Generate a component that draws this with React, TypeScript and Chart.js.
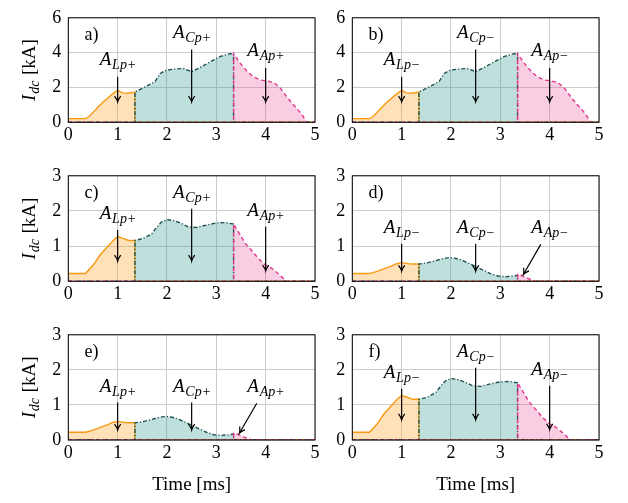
import React, { useEffect, useRef } from 'react';
import { Chart, registerables } from 'chart.js';

Chart.register(...registerables);

const SERIF = '"Liberation Serif", "Times New Roman", serif';

// ---- axes ----
const timeTicks = [0, 1, 2, 3, 4, 5];
const currentTicksHigh = [0, 2, 4, 6];
const currentTicksLow = [0, 1, 2, 3];

// ---- curve family "high" (panels a, b) ----
const highLt = [0, 0.35, 0.42, 0.5, 0.6, 0.7, 0.8, 0.9, 1.0, 1.1, 1.2, 1.35];
const highLi = [0.21, 0.21, 0.33, 0.57, 0.87, 1.15, 1.4, 1.63, 1.83, 1.69, 1.67, 1.74];
const highCt = [1.35, 1.59, 1.76, 1.86, 1.96, 2.13, 2.33, 2.5, 2.67, 2.87, 3.07, 3.28, 3.35];
const highCi = [1.74, 2.08, 2.34, 2.79, 2.97, 3.05, 3.09, 2.91, 3.14, 3.46, 3.77, 3.94, 3.94];
const highAt = [3.35, 3.48, 3.61, 3.75, 3.89, 4.02, 4.16, 4.29, 4.43, 4.56, 4.7, 4.8, 4.83];
const highAi = [3.94, 3.41, 2.97, 2.61, 2.43, 2.38, 2.29, 1.99, 1.46, 1.01, 0.57, 0.16, 0];

// ---- curve family "mid" (panels c, f) ----
const midLt = [0, 0.35, 0.51, 0.64, 0.78, 0.91, 1.0, 1.11, 1.22, 1.35];
const midLi = [0.22, 0.22, 0.47, 0.74, 0.96, 1.16, 1.27, 1.22, 1.16, 1.16];
const midCt = [1.35, 1.52, 1.69, 1.79, 1.89, 2.0, 2.13, 2.3, 2.43, 2.6, 2.8, 3.0, 3.18, 3.35];
const midCi = [1.16, 1.22, 1.35, 1.53, 1.69, 1.75, 1.73, 1.64, 1.55, 1.53, 1.6, 1.66, 1.67, 1.63];
const midAt = [3.35, 3.45, 3.58, 3.72, 3.85, 3.99, 4.12, 4.26, 4.36, 4.4];
const midAi = [1.63, 1.4, 1.09, 0.87, 0.65, 0.47, 0.37, 0.21, 0.08, 0];

// ---- curve family "low" (panels d, e) ----
const lowLt = [0, 0.35, 0.5, 0.65, 0.8, 0.9, 1.0, 1.1, 1.2, 1.35];
const lowLi = [0.22, 0.22, 0.28, 0.36, 0.44, 0.5, 0.53, 0.51, 0.49, 0.49];
const lowCt = [1.35, 1.5, 1.65, 1.8, 1.9, 2.0, 2.1, 2.2, 2.35, 2.5, 2.65, 2.8, 2.95, 3.1, 3.25, 3.35];
const lowCi = [0.49, 0.52, 0.57, 0.63, 0.66, 0.67, 0.65, 0.61, 0.52, 0.42, 0.32, 0.22, 0.15, 0.13, 0.15, 0.17];
const lowAt = [3.35, 3.45, 3.55, 3.65, 3.72];
const lowAi = [0.19, 0.16, 0.09, 0.03, 0];

// ---- annotations: [L, C, A] ----
const highLabelX = [1, 2.5, 4];
const highLabelY = [3.3, 4.83, 3.8];
const highArrowFromX = [1, 2.5, 4];
const highArrowFromY = [2.62, 4.18, 3.12];
const highArrowToX = [1, 2.5, 4];
const highArrowToY = [1.18, 1.18, 1.18];

const midLabelX = [1, 2.5, 4];
const midLabelY = [1.76, 2.38, 1.86];
const midArrowFromX = [1, 2.5, 4];
const midArrowFromY = [1.46, 2.06, 1.55];
const midArrowToX = [1, 2.5, 4];
const midArrowToY = [0.58, 0.58, 0.3];

const lowLabelX = [1, 2.5, 4];
const lowLabelY = [1.36, 1.36, 1.36];
const lowArrowFromX = [1, 2.5, 3.82];
const lowArrowFromY = [1.07, 1.07, 1.05];
const lowArrowToX = [1, 2.5, 3.47];
const lowArrowToY = [0.29, 0.29, 0.2];

const areaNames = ['L', 'C', 'A'];
const panelTags = ['a)', 'b)', 'c)', 'd)', 'e)', 'f)'];
const panelSigns = ['+', '\u2212', '+', '\u2212', '+', '\u2212'];
const panelFamilies = ['high', 'high', 'mid', 'low', 'low', 'mid'];
const tagX = 0.33;
const tagYHigh = 5.0;
const tagYLow = 2.5;

// ---- styles ----
const ORANGE = '#f79a12';
const ORANGE_FILL = 'rgba(252,165,40,0.33)';
const TEAL = '#1d5250';
const TEAL_FILL = 'rgba(40,150,140,0.3)';
const PINK = '#e2378c';
const PINK_FILL = 'rgba(230,55,140,0.25)';

const families: any = {
  high: {
    lt: highLt, li: highLi, ct: highCt, ci: highCi, at: highAt, ai: highAi,
    lx: highLabelX, ly: highLabelY, fx: highArrowFromX, fy: highArrowFromY, tx: highArrowToX, ty: highArrowToY,
    ticks: currentTicksHigh, max: 6, tagY: tagYHigh,
  },
  mid: {
    lt: midLt, li: midLi, ct: midCt, ci: midCi, at: midAt, ai: midAi,
    lx: midLabelX, ly: midLabelY, fx: midArrowFromX, fy: midArrowFromY, tx: midArrowToX, ty: midArrowToY,
    ticks: currentTicksLow, max: 3, tagY: tagYLow,
  },
  low: {
    lt: lowLt, li: lowLi, ct: lowCt, ci: lowCi, at: lowAt, ai: lowAi,
    lx: lowLabelX, ly: lowLabelY, fx: lowArrowFromX, fy: lowArrowFromY, tx: lowArrowToX, ty: lowArrowToY,
    ticks: currentTicksLow, max: 3, tagY: tagYLow,
  },
};

// ---- layout (page px) ----
const AREA_W = 246.7;
const Y_AXIS_W = 68.3;
const CANVAS_W = 330;
const colCanvasLeft = [0, 284];
const rowCanvasTop = [0, 158, 317];
const rowCanvasH = [155, 155, 186];
const rowAreaTop = [9, 167.3, 326.7];
const rowAreaBottom = [122.3, 281.3, 440];

function segmentPoints(t: number[], v: number[]) {
  const pts: { x: number; y: number }[] = [];
  if (t[0] > 0) {
    pts.push({ x: 0, y: 0 });
    pts.push({ x: t[0], y: 0 });
  }
  t.forEach((x, i) => pts.push({ x, y: v[i] }));
  const last = t[t.length - 1];
  if (v[v.length - 1] !== 0) pts.push({ x: last, y: 0 });
  if (last < 5) pts.push({ x: 5, y: 0 });
  return pts;
}

function drawArrow(ctx: CanvasRenderingContext2D, x0: number, y0: number, x1: number, y1: number) {
  ctx.strokeStyle = '#000';
  ctx.lineWidth = 1.2;
  ctx.setLineDash([]);
  ctx.beginPath();
  ctx.moveTo(x0, y0);
  ctx.lineTo(x1, y1);
  ctx.stroke();
  const ang = Math.atan2(y1 - y0, x1 - x0);
  const L = 6.5;
  const s = 0.5;
  ctx.beginPath();
  ctx.moveTo(x1 - L * Math.cos(ang - s), y1 - L * Math.sin(ang - s));
  ctx.quadraticCurveTo(x1 - 2 * Math.cos(ang - 0.2), y1 - 2 * Math.sin(ang - 0.2), x1, y1);
  ctx.quadraticCurveTo(x1 - 2 * Math.cos(ang + 0.2), y1 - 2 * Math.sin(ang + 0.2), x1 - L * Math.cos(ang + s), y1 - L * Math.sin(ang + s));
  ctx.stroke();
}

function drawSubText(
  ctx: CanvasRenderingContext2D,
  x: number,
  y: number,
  main: string,
  subIt: string,
  subUp: string,
  rest: string,
  big: number,
  small: number,
  center: boolean
) {
  const fMain = `italic ${big}px ${SERIF}`;
  const fSubIt = `italic ${small}px ${SERIF}`;
  const fSubUp = `${small}px ${SERIF}`;
  const fRest = `${big}px ${SERIF}`;
  ctx.font = fMain;
  const w1 = ctx.measureText(main).width + 0.8;
  ctx.font = fSubIt;
  const w2 = ctx.measureText(subIt).width + 0.8;
  ctx.font = fSubUp;
  const w3 = ctx.measureText(subUp).width;
  ctx.font = fRest;
  const w4 = rest ? ctx.measureText(rest).width : 0;
  const total = w1 + w2 + w3 + w4;
  let cx = center ? x - total / 2 : x;
  ctx.textAlign = 'left';
  ctx.textBaseline = 'alphabetic';
  ctx.fillStyle = '#000';
  ctx.font = fMain;
  ctx.fillText(main, cx, y);
  cx += w1;
  ctx.font = fSubIt;
  ctx.fillText(subIt, cx, y + 4);
  cx += w2;
  if (subUp) {
    ctx.font = fSubUp;
    ctx.fillText(subUp, cx, y + 4);
    cx += w3;
  }
  if (rest) {
    ctx.font = fRest;
    ctx.fillText(rest, cx, y);
  }
}

const decorPlugin = {
  id: 'decor',
  afterDraw(chart: any, _args: any, opts: any) {
    const { ctx, chartArea: ca, scales } = chart;
    const xs = scales.x;
    const ys = scales.y;
    ctx.save();
    // frame
    ctx.strokeStyle = '#000';
    ctx.lineWidth = 1;
    ctx.setLineDash([]);
    ctx.strokeRect(ca.left, ca.top, ca.right - ca.left, ca.bottom - ca.top);
    // tag
    ctx.font = `18px ${SERIF}`;
    ctx.fillStyle = '#000';
    ctx.textAlign = 'left';
    ctx.textBaseline = 'middle';
    ctx.fillText(opts.tag, xs.getPixelForValue(opts.tagX), ys.getPixelForValue(opts.tagY));
    // annotations
    for (let i = 0; i < 3; i++) {
      drawArrow(
        ctx,
        xs.getPixelForValue(opts.fx[i]),
        ys.getPixelForValue(opts.fy[i]),
        xs.getPixelForValue(opts.tx[i]),
        ys.getPixelForValue(opts.ty[i])
      );
      drawSubText(
        ctx,
        xs.getPixelForValue(opts.lx[i]),
        ys.getPixelForValue(opts.ly[i]),
        'A',
        opts.names[i] + 'p',
        opts.sign,
        '',
        19,
        14,
        true
      );
    }
    // y title
    if (opts.yTitle) {
      ctx.save();
      ctx.translate(34.5, (ca.top + ca.bottom) / 2);
      ctx.rotate(-Math.PI / 2);
      drawSubText(ctx, 0, 0, 'I', 'dc', '', ' [kA]', 19, 14, true);
      ctx.restore();
    }
    // x title
    if (opts.xTitle) {
      ctx.font = `19px ${SERIF}`;
      ctx.textAlign = 'center';
      ctx.textBaseline = 'middle';
      ctx.fillStyle = '#000';
      ctx.fillText('Time [ms]', (ca.left + ca.right) / 2, ca.bottom + 45);
    }
    ctx.restore();
  },
};

function Panel({ index }: { index: number }) {
  const ref = useRef<HTMLCanvasElement | null>(null);
  const col = index % 2;
  const row = Math.floor(index / 2);
  const left = colCanvasLeft[col];
  const top = rowCanvasTop[row];
  const H = rowCanvasH[row];
  const fam = families[panelFamilies[index]];

  useEffect(() => {
    if (!ref.current) return;
    const padTop = rowAreaTop[row] - top;
    const xAxisH = H - (rowAreaBottom[row] - top);
    const padRight = CANVAS_W - Y_AXIS_W - AREA_W;
    const lineCommon = { pointRadius: 0, borderWidth: 1.4, tension: 0, fill: 'origin' as const };
    const chart = new Chart(ref.current, {
      type: 'line',
      data: {
        datasets: [
          {
            ...lineCommon,
            data: segmentPoints(fam.at, fam.ai),
            borderColor: PINK,
            backgroundColor: PINK_FILL,
            borderDash: [4, 3],
          },
          {
            ...lineCommon,
            data: segmentPoints(fam.ct, fam.ci),
            borderColor: TEAL,
            backgroundColor: TEAL_FILL,
            borderDash: [4, 2, 1.2, 2],
          },
          {
            ...lineCommon,
            data: segmentPoints(fam.lt, fam.li),
            borderColor: ORANGE,
            backgroundColor: ORANGE_FILL,
          },
        ],
      },
      options: {
        animation: false,
        responsive: false,
        events: [],
        layout: { padding: { top: padTop, left: 0, right: padRight, bottom: 0 } },
        plugins: {
          legend: { display: false },
          tooltip: { enabled: false },
          decor: {
            tag: panelTags[index],
            tagX: tagX,
            tagY: fam.tagY,
            lx: fam.lx,
            ly: fam.ly,
            fx: fam.fx,
            fy: fam.fy,
            tx: fam.tx,
            ty: fam.ty,
            names: areaNames,
            sign: panelSigns[index],
            yTitle: col === 0,
            xTitle: row === 2,
          },
        } as any,
        scales: {
          x: {
            type: 'linear',
            min: 0,
            max: 5,
            afterBuildTicks: (scale: any) => {
              scale.ticks = timeTicks.map((v) => ({ value: v }));
            },
            afterFit: (scale: any) => {
              scale.height = xAxisH;
            },
            grid: { color: '#cccccc', lineWidth: 1, drawTicks: false },
            border: { display: false },
            ticks: {
              color: '#000',
              padding: 2,
              maxRotation: 0,
              font: { family: SERIF, size: 18 },
            },
          },
          y: {
            type: 'linear',
            min: 0,
            max: fam.max,
            afterBuildTicks: (scale: any) => {
              scale.ticks = fam.ticks.map((v: number) => ({ value: v }));
            },
            afterFit: (scale: any) => {
              scale.width = Y_AXIS_W;
            },
            grid: { color: '#cccccc', lineWidth: 1, drawTicks: false },
            border: { display: false },
            ticks: {
              color: '#000',
              padding: 7,
              font: { family: SERIF, size: 18 },
            },
          },
        },
      },
      plugins: [decorPlugin as any],
    });
    return () => chart.destroy();
  }, []);

  return (
    <canvas
      ref={ref}
      width={CANVAS_W}
      height={H}
      style={{ position: 'absolute', left, top, width: CANVAS_W, height: H }}
    />
  );
}

export default function App() {
  return (
    <div style={{ position: 'absolute', left: 0, top: 0, width: 628, height: 503, background: '#fff', overflow: 'hidden' }}>
      {[0, 1, 2, 3, 4, 5].map((i) => (
        <Panel key={i} index={i} />
      ))}
    </div>
  );
}
